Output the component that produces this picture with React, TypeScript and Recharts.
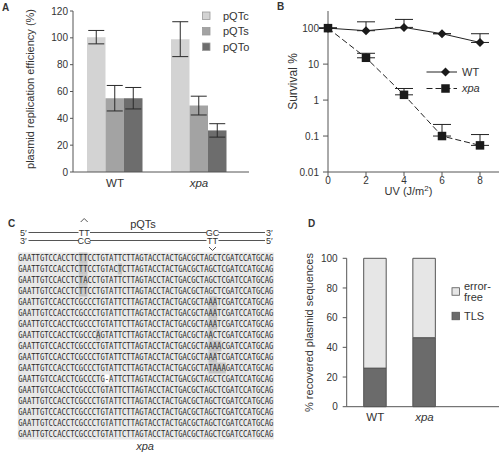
import React from 'react';
import { BarChart, Bar, LineChart, Line, XAxis, YAxis, ErrorBar, Legend } from 'recharts';

const FONT = '"Liberation Sans", Arial, sans-serif';
const INK = '#333';
const AXIS = '#555';

// panel A - plasmid replication efficiency
const strainsA = ['WT', 'xpa'];
const pqtcValues = [100.5, 99];
const pqtcErrors = [5, 13];
const pqtsValues = [55, 49.5];
const pqtsErrors = [9.5, 7];
const pqtoValues = [55, 31];
const pqtoErrors = [8, 5];
const efficiencyTicks = [0, 20, 40, 60, 80, 100, 120];
const seriesOrderA = ['pQTc', 'pQTs', 'pQTo'];

// panel B - UV survival
const uvDoses = [0, 2, 4, 6, 8];
const wtSurvival = [100, 85, 105, 70, 40];
const wtUpperError = [0, 65, 70, 0, 30];
const xpaSurvival = [100, 15, 1.4, 0.1, 0.055];
const xpaUpperError = [0, 5, 0.7, 0.11, 0.055];
const survivalTicks = [0.01, 0.1, 1, 10, 100];
const doseTicks = [0, 2, 4, 6, 8];

// panel C - recovered sequences (xpa)
const seqRows = [
  'GAATTGTCCACCTCTTCCTGTATTCTTAGTACCTACTGACGCTAGCTCGATCCATGCAG',
  'GAATTGTCCACCTCTTCCTGTACTCTTAGTACCTACTGACGCTAGCTCGATCCATGCAG',
  'GAATTGTCCACCTCTACCTGTATTCTTAGTACCTACTGACGCTAGCTCGATCCATGCAG',
  'GAATTGTCCACCTCTTCCTGTATTCTTAGTACCTACTGACGCTAGCTCGATCCATGCAG',
  'GAATTGTCCACCTCGCCCTGTATTCTTAGTACCTACTGACGCTAAATCGATCCATGCAG',
  'GAATTGTCCACCTCGCCCTGTATTCTTAGTACCTACTGACGCTAAATCGATCCATGCAG',
  'GAATTGTCCACCTCGCCCTGTATTCTTAGTACCTACTGACGCTAAATCGATCCATGCAG',
  'GAATTGTCCACCTCGCCCAGTATTCTTAGTACCTACTGACGCTAACTCGATCCATGCAG',
  'GAATTGTCCACCTCGCCCTGTATTCTTAGTACCTACTGACGCTAAAACGATCCATGCAG',
  'GAATTGTCCACCTCGCCCTGTATTCTTAGTACCTACTGACGCTAAATCGATCCATGCAG',
  'GAATTGTCCACCTCGCCCTGTATTCTTAGTACCTACTGACGCTATAAAGATCCATGCAG',
  'GAATTGTCCACCTCGCCCTG-ATTCTTAGTACCTACTGACGCTAGCTCGATCCATGCAG',
  'GAATTGTCCACCTCGCCCTGTATTCTTAGTACCTACTGACGCTAGCTCGATCCATGCAG',
  'GAATTGTCCACCTCGCCCTGTATTCTTAGTACCTACTGACGCTAGCTCGATCCATGCAG',
  'GAATTGTCCACCTCGCCCTGTATTCTTAGTACCTACTGACGCTAGCTCGATCCATGCAG',
  'GAATTGTCCACCTCGCCCTGTATTCTTAGTACCTACTGACGCTAGCTCGATCCATGCAG',
  'GAATTGTCCACCTCGCCCTGTATTCTTAGTACCTACTGACGCTAGCTCGATCCATGCAG',
];
const seqMarks = [
  [14, 15], [14, 15, 23], [14, 15], [14, 15],
  [44, 45], [44, 45], [44, 45], [18, 44], [44, 45, 46], [44, 45], [44, 45, 46, 47],
  [], [], [], [], [], [],
];
const seqGaps = [[], [], [], [], [], [], [], [], [], [], [], [20], [], [], [], [], []];

// panel D - TLS vs error-free
const strainsD = ['WT', 'xpa'];
const tlsPercent = [26, 46.5];
const errorFreePercent = [74, 53.5];
const percentTicks = [0, 20, 40, 60, 80, 100];
const seriesOrderD = ['error-free', 'TLS'];

const dataA = strainsA.map((s, i) => ({
  name: s,
  pqtc: pqtcValues[i], pqtcErr: pqtcErrors[i],
  pqts: pqtsValues[i], pqtsErr: pqtsErrors[i],
  pqto: pqtoValues[i], pqtoErr: pqtoErrors[i],
}));

const dataB = uvDoses.map((d, i) => ({
  uv: d,
  wt: wtSurvival[i], wtErr: [0, wtUpperError[i]],
  xpa: xpaSurvival[i], xpaErr: [0, xpaUpperError[i]],
}));

const dataD = strainsD.map((s, i) => ({ name: s, tls: tlsPercent[i], free: errorFreePercent[i] }));

const tickStyle = { fontSize: 10, fill: INK, fontFamily: FONT };

const ordered = (payload: any[] | undefined, order: string[]) =>
  [...(payload || [])].sort((a, b) => order.indexOf(a.value) - order.indexOf(b.value));

const CategoryTick = (props: any) => {
  const { x, y, payload } = props;
  return (
    <text x={x} y={y} dy="0.75em" textAnchor="middle" fontSize={11.5} fontFamily={FONT} fill={INK}
      fontStyle={payload.value === 'xpa' ? 'italic' : 'normal'}>
      {payload.value}
    </text>
  );
};

const rotatedLabel = (text: string, offsetX: number, shiftY: number, size: number) => (props: any) => {
  const vb = props.viewBox || {};
  const x = (vb.x ?? 0) + offsetX;
  const y = (vb.y ?? 0) + (vb.height ?? 0) / 2 + shiftY;
  return (
    <text x={x} y={y} transform={`rotate(-90 ${x} ${y})`} textAnchor="middle" dominantBaseline="central"
      fontSize={size} fontFamily={FONT} fill={INK}>
      {text}
    </text>
  );
};

const uvLabel = (props: any) => {
  const vb = props.viewBox || {};
  const x = (vb.x ?? 0) + (vb.width ?? 0) / 2 - 5;
  const y = (vb.y ?? 0) + 23;
  return (
    <text x={x} y={y} textAnchor="middle" fontSize={11} fontFamily={FONT} fill={INK}>
      UV (J/m<tspan dy={-4} fontSize={8}>2</tspan><tspan dy={4}>)</tspan>
    </text>
  );
};

const titleD = (props: any) => {
  const vb = props.viewBox || {};
  const x = (vb.x ?? 0) + (vb.width ?? 0) / 2 - 1;
  const y = (vb.y ?? 0) - 8;
  return <text x={x} y={y} textAnchor="middle" fontSize={11} fontFamily={FONT} fill={INK}>pQTs</text>;
};

const LegendA = ({ payload }: any) => (
  <svg width={55} height={50} style={{ display: 'block' }}>
    {ordered(payload, seriesOrderA).map((e: any, i: number) => (
      <g key={e.value}>
        <rect x={2.5} y={4 + i * 15.5} width={7.5} height={7.5} fill={e.color} stroke="#999" strokeWidth={0.8} />
        <text x={23} y={7.75 + i * 15.5} dy="0.35em" fontSize={11} fontFamily={FONT} fill={INK}>{e.value}</text>
      </g>
    ))}
  </svg>
);

const Diamond = ({ cx, cy }: { cx: number; cy: number }) => (
  <path d={`M${cx} ${cy - 4.5}L${cx + 4.5} ${cy}L${cx} ${cy + 4.5}L${cx - 4.5} ${cy}Z`} fill="#1a1a1a" />
);
const Square = ({ cx, cy }: { cx: number; cy: number }) => (
  <rect x={cx - 4.25} y={cy - 4.25} width={8.5} height={8.5} fill="#1a1a1a" />
);

const LegendB = ({ payload }: any) => (
  <svg width={75} height={36} style={{ display: 'block' }}>
    {ordered(payload, ['WT', 'xpa']).map((e: any, i: number) => {
      const y = 9 + i * 16.5;
      const isXpa = e.dataKey === 'xpa';
      return (
        <g key={e.value}>
          <line x1={0.5} x2={31} y1={y} y2={y} stroke="#222" strokeDasharray={isXpa ? '6 3' : undefined} />
          {isXpa ? <Square cx={19.5} cy={y} /> : <Diamond cx={19.5} cy={y} />}
          <text x={36} y={y} dy="0.35em" fontSize={11} fontFamily={FONT} fill={INK}
            fontStyle={isXpa ? 'italic' : 'normal'}>{e.value}</text>
        </g>
      );
    })}
  </svg>
);

const LegendD = ({ payload }: any) => (
  <svg width={55} height={46} style={{ display: 'block' }}>
    {ordered(payload, seriesOrderD).map((e: any, i: number) => {
      const y = i === 0 ? 11.5 : 36;
      const lines = e.value === 'error-free' ? ['error-', 'free'] : [e.value];
      return (
        <g key={e.value}>
          <rect x={2} y={y - 3.75} width={7.5} height={7.5} fill={e.color} stroke={AXIS} strokeWidth={0.8} />
          {lines.map((t, j) => (
            <text key={t} x={14} y={y + (lines.length === 2 ? (j === 0 ? -5 : 5.5) : 0)} dy="0.35em"
              fontSize={11} fontFamily={FONT} fill={INK}>{t}</text>
          ))}
        </g>
      );
    })}
  </svg>
);

const SEQ_LEFT = 18.3;
const SEQ_WIDTH = 255;
const CHAR_W = SEQ_WIDTH / 59;
const ROW0 = 48; // relative to panel C top (page y 210)
const ROW_H = 11;

const SequencePanel = () => {
  const txt = { fontFamily: FONT, fill: INK } as const;
  return (
    <svg width={340} height={244} style={{ position: 'absolute', left: 0, top: 210 }}>
      <text x={8} y={17} fontSize={10} fontWeight="bold" {...txt}>C</text>
      <text x={143} y={18} fontSize={11} textAnchor="middle" {...txt}>pQTs</text>
      <path d="M80.7 12L84.2 8.5L87.7 12" fill="none" stroke={AXIS} />
      <text x={20} y={25.5} fontSize={9} {...txt}>5′</text>
      <line x1={28.5} x2={78.5} y1={22.5} y2={22.5} stroke={AXIS} />
      <text x={84.2} y={25.5} fontSize={9} textAnchor="middle" {...txt}>TT</text>
      <line x1={90} x2={206.5} y1={22.5} y2={22.5} stroke={AXIS} />
      <text x={212.5} y={25.5} fontSize={9} textAnchor="middle" {...txt}>GC</text>
      <line x1={218.5} x2={265} y1={22.5} y2={22.5} stroke={AXIS} />
      <text x={266} y={25.5} fontSize={9} {...txt}>3′</text>
      <text x={20} y={34} fontSize={9} {...txt}>3′</text>
      <line x1={28.5} x2={78.5} y1={30.5} y2={30.5} stroke={AXIS} />
      <text x={84.2} y={34} fontSize={9} textAnchor="middle" {...txt}>CG</text>
      <line x1={90} x2={206.5} y1={30.5} y2={30.5} stroke={AXIS} />
      <text x={212.5} y={34} fontSize={9} textAnchor="middle" {...txt}>TT</text>
      <line x1={218.5} x2={265} y1={30.5} y2={30.5} stroke={AXIS} />
      <text x={266} y={34} fontSize={9} {...txt}>5′</text>
      <path d="M209 37L212.5 40.5L216 37" fill="none" stroke={AXIS} />
      <rect x={SEQ_LEFT - 0.5} y={ROW0 - 5.5} width={SEQ_WIDTH + 1} height={ROW_H * seqRows.length} fill="#e8e8e8" />
      {seqMarks.map((cols, r) =>
        cols.map((c) => (
          <rect key={`m${r}-${c}`} x={SEQ_LEFT + c * CHAR_W} y={ROW0 + r * ROW_H - 5.5} width={CHAR_W}
            height={ROW_H} fill="#c6c6c6" />
        ))
      )}
      {seqGaps.map((cols, r) =>
        cols.map((c) => (
          <rect key={`g${r}-${c}`} x={SEQ_LEFT + c * CHAR_W} y={ROW0 + r * ROW_H - 4.5} width={CHAR_W}
            height={ROW_H - 2} fill="#fff" />
        ))
      )}
      {seqRows.map((s, r) => (
        <text key={r} x={SEQ_LEFT} y={ROW0 + r * ROW_H + 2.9} fontSize={8} fontFamily='"DejaVu Sans Mono", monospace'
          fill="#2a2a2a" textLength={SEQ_WIDTH} lengthAdjust="spacingAndGlyphs">{s}</text>
      ))}
      <text x={145} y={240} fontSize={11} fontStyle="italic" textAnchor="middle" {...txt}>xpa</text>
    </svg>
  );
};

export default function App() {
  return (
    <div style={{ position: 'absolute', left: 0, top: 0, width: 501, height: 454, background: '#fff', fontFamily: FONT }}>
      <svg width={501} height={30} style={{ position: 'absolute', left: 0, top: 0 }}>
        <text x={2} y={11} fontSize={10} fontWeight="bold" fontFamily={FONT} fill={INK}>A</text>
        <text x={277} y={10} fontSize={10} fontWeight="bold" fontFamily={FONT} fill={INK}>B</text>
      </svg>

      <SequencePanel />

      <div style={{ position: 'absolute', left: 0, top: 0 }}>
        <BarChart width={250} height={210} data={dataA} margin={{ top: 11, right: 1, left: 0, bottom: 0 }}
          barGap={0} barSize={18.5}>
          <XAxis dataKey="name" height={38} padding={{ left: 0, right: 8 }} tickLine={false} tickSize={6}
            tickMargin={0} tick={<CategoryTick />} axisLine={{ stroke: AXIS }} />
          <YAxis width={73} domain={[0, 120]} ticks={efficiencyTicks} tickSize={3} tickMargin={2}
            tick={tickStyle} axisLine={{ stroke: AXIS }} tickLine={{ stroke: AXIS }}
            label={rotatedLabel('plasmid replication efficiency (%)', 30, -2.5, 11)} />
          <Legend layout="horizontal" verticalAlign="middle" align="center" content={<LegendA />}
            wrapperStyle={{ left: 200, top: 8, width: 55, height: 50 }} />
          <Bar dataKey="pqtc" name="pQTc" fill="#d3d3d3" isAnimationActive={false}>
            <ErrorBar dataKey="pqtcErr" width={8} stroke="#2a2a2a" strokeWidth={1} />
          </Bar>
          <Bar dataKey="pqts" name="pQTs" fill="#a3a3a3" isAnimationActive={false}>
            <ErrorBar dataKey="pqtsErr" width={8} stroke="#2a2a2a" strokeWidth={1} />
          </Bar>
          <Bar dataKey="pqto" name="pQTo" fill="#6d6d6d" isAnimationActive={false}>
            <ErrorBar dataKey="pqtoErr" width={8} stroke="#2a2a2a" strokeWidth={1} />
          </Bar>
        </BarChart>
      </div>

      <div style={{ position: 'absolute', left: 250, top: 0 }}>
        <LineChart width={251} height={210} data={dataB} margin={{ top: 11, right: 2, left: 0, bottom: 0 }}>
          <XAxis dataKey="uv" type="number" domain={[0, 9]} ticks={doseTicks} height={38} tickSize={4}
            tickMargin={1} tick={tickStyle} axisLine={{ stroke: AXIS }} tickLine={{ stroke: AXIS }} label={uvLabel} />
          <XAxis xAxisId="top" orientation="top" type="number" domain={[0, 9]} height={0} tick={false}
            tickLine={false} axisLine={{ stroke: AXIS }} />
          <YAxis type="number" scale="log" domain={[0.01, 300]} allowDataOverflow ticks={survivalTicks}
            tickFormatter={(v: number) => String(v)} width={78} tickSize={5} tickMargin={4} tick={tickStyle}
            axisLine={{ stroke: AXIS }} tickLine={{ stroke: AXIS }}
            label={rotatedLabel('Survival %', 42.5, -10, 12)} />
          <YAxis yAxisId="right" orientation="right" type="number" domain={[0, 1]} allowDataOverflow width={0}
            tick={false} tickLine={false} axisLine={{ stroke: AXIS }} />
          <Legend layout="horizontal" verticalAlign="middle" align="center" content={<LegendB />}
            wrapperStyle={{ left: 176, top: 63, width: 75, height: 36 }} />
          <Line dataKey="wt" name="WT" stroke="#222" strokeWidth={1} isAnimationActive={false}
            dot={(p: any) => <Diamond key={`w${p.index}`} cx={p.cx} cy={p.cy} />}>
            <ErrorBar dataKey="wtErr" width={9} stroke="#222" strokeWidth={1} />
          </Line>
          <Line dataKey="xpa" name="xpa" stroke="#222" strokeWidth={1} strokeDasharray="6 3"
            isAnimationActive={false} dot={(p: any) => <Square key={`x${p.index}`} cx={p.cx} cy={p.cy} />}>
            <ErrorBar dataKey="xpaErr" width={9} stroke="#222" strokeWidth={1} />
          </Line>
        </LineChart>
      </div>

      <svg width={30} height={20} style={{ position: 'absolute', left: 300, top: 212 }}>
        <text x={8} y={15} fontSize={10} fontWeight="bold" fontFamily={FONT} fill={INK}>D</text>
      </svg>

      <div style={{ position: 'absolute', left: 250, top: 210 }}>
        <BarChart width={251} height={244} data={dataD} margin={{ top: 48.3, right: 2, left: 0, bottom: 0 }}
          barSize={22.5}>
          <XAxis dataKey="name" height={47.3} padding={{ left: 4, right: 50 }} tickLine={false} tickSize={6}
            tickMargin={0} tick={<CategoryTick />} axisLine={{ stroke: AXIS }} />
          <XAxis xAxisId="top" orientation="top" type="number" domain={[0, 1]} height={0} tick={false}
            tickLine={false} axisLine={{ stroke: AXIS }} label={titleD} />
          <YAxis width={96.7} domain={[0, 100]} ticks={percentTicks} tickSize={4} tickMargin={5} tick={tickStyle}
            axisLine={{ stroke: AXIS }} tickLine={{ stroke: AXIS }}
            label={rotatedLabel('% recovered plasmid sequences', 59, 0, 11)} />
          <YAxis yAxisId="right" orientation="right" type="number" domain={[0, 1]} allowDataOverflow width={0}
            tick={false} tickLine={false} axisLine={{ stroke: AXIS }} />
          <Legend layout="horizontal" verticalAlign="middle" align="center" content={<LegendD />}
            wrapperStyle={{ left: 200, top: 70, width: 55, height: 46 }} />
          <Bar dataKey="tls" name="TLS" stackId="s" fill="#6b6b6b" stroke={AXIS} strokeWidth={1}
            isAnimationActive={false} />
          <Bar dataKey="free" name="error-free" stackId="s" fill="#e6e6e6" stroke={AXIS} strokeWidth={1}
            isAnimationActive={false} />
        </BarChart>
      </div>
    </div>
  );
}
